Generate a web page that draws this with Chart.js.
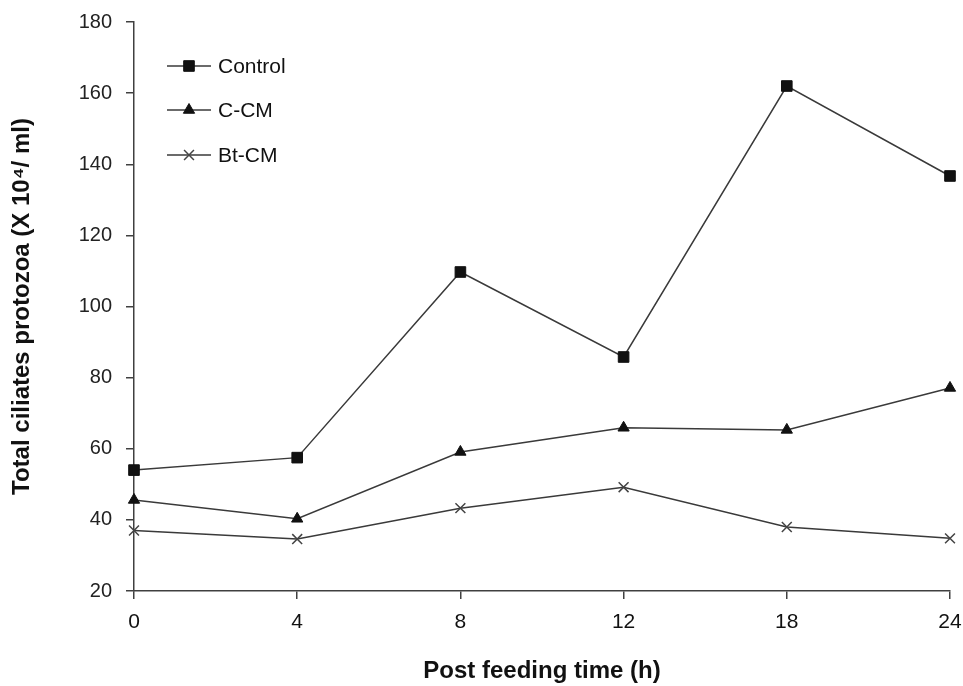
<!DOCTYPE html>
<html>
<head>
<meta charset="utf-8">
<script src="https://cdn.jsdelivr.net/npm/chart.js@4.4.1/dist/chart.umd.min.js"></script>
<style>
  html, body { margin: 0; padding: 0; background: #fff; }
  #wrap { width: 963px; height: 686px; }
</style>
</head>
<body>
<div id="wrap"><canvas id="chart" width="963" height="686"></canvas></div>
<script>
const hours = ['0', '4', '8', '12', '18', '24']
const control = [54, 57.5, 109.7, 85.8, 162, 136.7]
const cCM = [45.6, 40.3, 59.1, 65.9, 65.3, 77.1]
const btCM = [37, 34.6, 43.3, 49.2, 38, 34.8]
const yTicks = [20, 40, 60, 80, 100, 120, 140, 160, 180]

const lineColor = '#3a3a3a'
const markColor = '#111'
const axisColor = '#404040'

function series(label, data, style, radius) {
  return {
    label,
    data,
    borderColor: lineColor,
    borderWidth: 1.5,
    pointStyle: style,
    pointRadius: radius,
    pointBackgroundColor: markColor,
    pointBorderColor: style === 'crossRot' ? '#444' : markColor,
    pointBorderWidth: style === 'crossRot' ? 1.5 : 1,
    tension: 0,
    fill: false
  }
}

// legend drawn inside the plot, line + marker + text
const insideLegend = {
  id: 'insideLegend',
  afterDraw(chart) {
    const ctx = chart.ctx
    const area = chart.chartArea
    const x0 = area.left + 33
    const rows = [44, 88, 133]
    ctx.save()
    chart.data.datasets.forEach((ds, i) => {
      const y = area.top + rows[i]
      ctx.strokeStyle = lineColor
      ctx.lineWidth = 1.5
      ctx.beginPath()
      ctx.moveTo(x0, y)
      ctx.lineTo(x0 + 44, y)
      ctx.stroke()
      ctx.fillStyle = ds.pointBackgroundColor
      ctx.strokeStyle = ds.pointBorderColor
      ctx.lineWidth = ds.pointBorderWidth
      Chart.helpers.drawPoint(ctx, { pointStyle: ds.pointStyle, radius: ds.pointRadius, borderWidth: ds.pointBorderWidth }, x0 + 22, y)
      ctx.fillStyle = '#111'
      ctx.font = '21px "Liberation Sans", Arial, sans-serif'
      ctx.textBaseline = 'middle'
      ctx.fillText(ds.label, x0 + 51, y + 1)
    })
    ctx.restore()
  }
}

new Chart(document.getElementById('chart'), {
  type: 'line',
  data: {
    labels: hours,
    datasets: [
      series('Control', control, 'rect', 7.5),
      series('C-CM', cCM, 'triangle', 6.5),
      series('Bt-CM', btCM, 'crossRot', 7)
    ]
  },
  options: {
    responsive: false,
    animation: false,
    layout: { padding: { top: 22, right: 13, bottom: 0, left: 0 } },
    plugins: {
      legend: { display: false },
      tooltip: { enabled: false }
    },
    scales: {
      x: {
        type: 'category',
        offset: false,
        grid: { display: true, drawOnChartArea: false, drawTicks: true, tickLength: 8, color: axisColor, lineWidth: 1.5 },
        border: { color: axisColor, width: 1.5 },
        ticks: {
          color: '#111',
          padding: 11,
          font: { family: '"Liberation Sans", Arial, sans-serif', size: 21 }
        },
        title: {
          display: true,
          text: 'Post feeding time (h)',
          color: '#111',
          padding: { top: 0, bottom: 0 },
          font: { family: '"Liberation Sans", Arial, sans-serif', size: 24, weight: 'bold' }
        },
        afterFit(scale) {
          scale.height = 95
          scale.paddingLeft = 0
          scale.paddingRight = 0
        }
      },
      y: {
        min: 20,
        max: 180,
        afterBuildTicks(scale) { scale.ticks = yTicks.map(v => ({ value: v })) },
        grid: { display: true, drawOnChartArea: false, drawTicks: true, tickLength: 8, color: axisColor, lineWidth: 1.5 },
        border: { color: axisColor, width: 1.5 },
        ticks: {
          color: '#222',
          padding: 14,
          font: { family: '"Liberation Sans", Arial, sans-serif', size: 20 }
        },
        title: {
          display: true,
          text: 'Total ciliates protozoa (X 10\u2074/ ml)',
          color: '#111',
          padding: { top: 8, bottom: 0 },
          font: { family: '"Liberation Sans", Arial, sans-serif', size: 24, weight: 'bold' }
        },
        afterFit(scale) {
          scale.width = 134
          scale.paddingTop = 0
          scale.paddingBottom = 0
        }
      }
    }
  },
  plugins: [insideLegend]
})
</script>
</body>
</html>
